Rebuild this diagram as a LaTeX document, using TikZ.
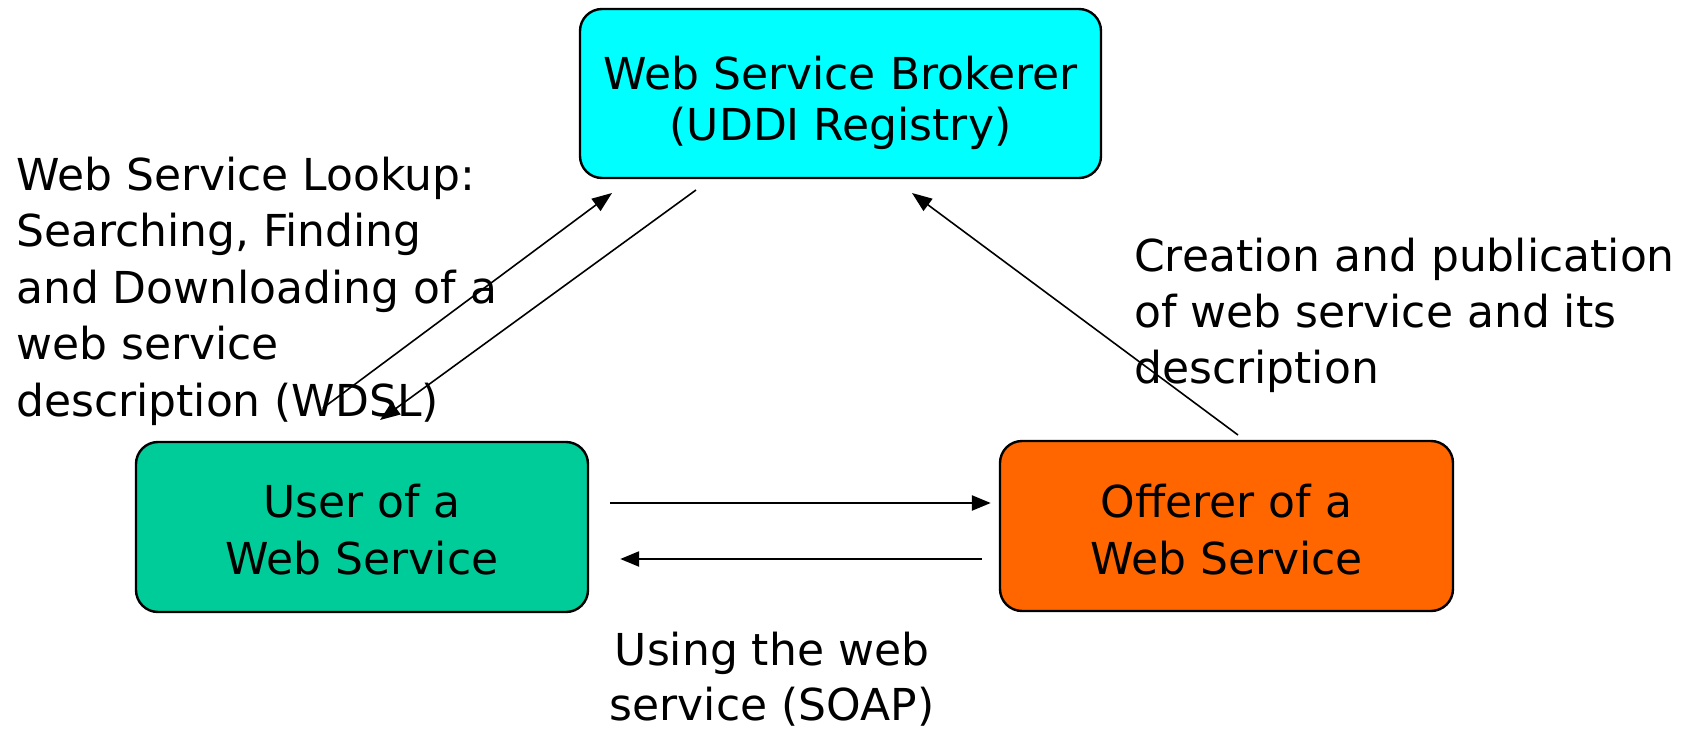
\documentclass[tikz,border=0pt]{standalone}
\usepackage{fontspec}
\setmainfont{DejaVu Sans}
\usetikzlibrary{arrows.meta}
\definecolor{brokercyan}{RGB}{0,255,255}
\definecolor{usergreen}{RGB}{0,204,153}
\definecolor{offerorange}{RGB}{255,102,0}
\tikzset{
  box/.style={draw=black, line width=2.4pt, rounded corners=22pt, inner sep=0pt},
  lbl/.style={font=\fontsize{44}{56}\selectfont, inner sep=0pt},
  conn/.style={line width=1.6pt, -{Triangle[length=20pt,width=15pt]}},
  hconn/.style={line width=2.4pt, -{Triangle[length=19pt,width=15pt]}},
}
\begin{document}
\begin{tikzpicture}[x=1pt,y=-1pt]
  \useasboundingbox (0,0) rectangle (1681,733);
  % service boxes
  \node[box, fill=brokercyan, minimum width=521pt, minimum height=169pt] (broker) at (840.5,93.5) {};
  \node[box, fill=usergreen, minimum width=452pt, minimum height=170pt] (user) at (362,527) {};
  \node[box, fill=offerorange, minimum width=453pt, minimum height=170pt] (offer) at (1226.5,526) {};
  % box captions
  \node[lbl, anchor=base] (brokerA) at (840.5,90) {Web Service Brokerer};
  \node[lbl, anchor=base] (brokerB) at (840.5,140) {(UDDI Registry)};
  \node[lbl, anchor=base] (userA) at (362,517) {User of a};
  \node[lbl, anchor=base] (userB) at (362,574) {Web Service};
  \node[lbl, anchor=base] (offerA) at (1226.5,517) {Offerer of a};
  \node[lbl, anchor=base] (offerB) at (1226.5,574) {Web Service};
  % lookup label
  \node[lbl, anchor=base west] (look1) at (16,190) {Web Service Lookup:};
  \node[lbl, anchor=base west] (look2) at (16,246.5) {Searching, Finding};
  \node[lbl, anchor=base west] (look3) at (16,303) {and Downloading of a};
  \node[lbl, anchor=base west] (look4) at (16,359.5) {web service};
  \node[lbl, anchor=base west] (look5) at (16,416) {description (WDSL)};
  % publication label
  \node[lbl, anchor=base west] (pub1) at (1134,271) {Creation and publication};
  \node[lbl, anchor=base west] (pub2) at (1134,327) {of web service and its};
  \node[lbl, anchor=base west] (pub3) at (1134,383) {description};
  % usage label
  \node[lbl, anchor=base] (use1) at (772,665) {Using the web};
  \node[lbl, anchor=base] (use2) at (772,720) {service (SOAP)};
  % connector end points
  \coordinate (luS) at (323,408);
  \coordinate (luE) at (612,193);
  \coordinate (ldS) at (696,190);
  \coordinate (ldE) at (380,420);
  \coordinate (pbS) at (1238,435);
  \coordinate (pbE) at (912,193);
  \coordinate (reqS) at ([xshift=21pt]user.east |- 0,503);
  \coordinate (reqE) at ([xshift=-8pt]offer.west |- 0,503);
  \coordinate (resS) at ([xshift=-17pt]offer.west |- 0,559);
  \coordinate (resE) at ([xshift=31pt]user.east |- 0,559);
  % connectors
  \draw[conn] (luS) -- (luE);
  \draw[conn] (ldS) -- (ldE);
  \draw[conn] (pbS) -- (pbE);
  \draw[hconn] (reqS) -- (reqE);
  \draw[hconn] (resS) -- (resE);
\end{tikzpicture}
\end{document}
